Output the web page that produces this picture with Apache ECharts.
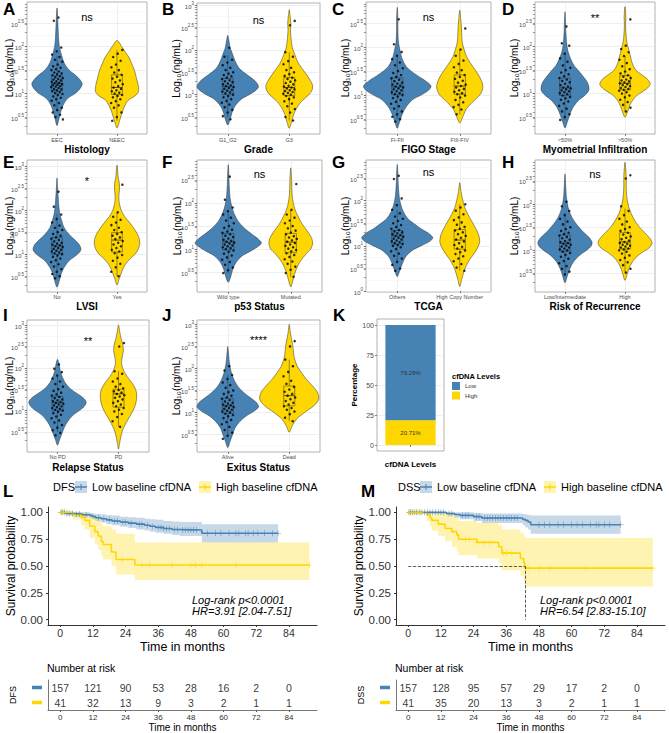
<!DOCTYPE html>
<html><head><meta charset="utf-8">
<script src="https://cdn.jsdelivr.net/npm/echarts@6/dist/echarts.min.js"></script>
<style>html,body{margin:0;padding:0;background:#fff}#c{width:669px;height:733px}</style>
</head><body><div id="c"></div>
<script>
const FONT = '"Liberation Sans", Arial, sans-serif';
const BLUE = '#4682B4', YELLOW = '#FFD700';
const BLUE_BAND = 'rgba(70,130,180,0.3)', YELLOW_BAND = 'rgba(255,215,0,0.3)';
const TXT = '#4d4d4d';

// ---------- Violin panels: categories, density outlines [log10 value, half width], points (log10), box stats [lo, q1, med, q3, hi]
const catsA = ['EEC', 'NEEC'];
const densA1 = [[0.32,0],[0.45,0.03],[0.6,0.06],[0.75,0.1],[0.9,0.18],[1.0,0.3],[1.1,0.38],[1.2,0.42],[1.3,0.38],[1.4,0.3],[1.5,0.2],[1.65,0.12],[1.8,0.08],[2.0,0.04],[2.2,0.025],[2.5,0.015],[2.82,0]];
const densA2 = [[0.27,0],[0.45,0.05],[0.65,0.1],[0.85,0.18],[0.95,0.3],[1.05,0.36],[1.2,0.35],[1.35,0.32],[1.5,0.29],[1.65,0.24],[1.77,0.2],[1.9,0.13],[2.0,0.08],[2.13,0]];
const ptsA1 = [2.62,2.55,1.98,1.9,1.83,1.78,1.72,1.68,1.62,1.58,1.55,1.52,1.5,1.47,1.45,1.43,1.41,1.39,1.37,1.35,1.33,1.31,1.3,1.28,1.26,1.25,1.23,1.22,1.2,1.19,1.18,1.16,1.15,1.14,1.12,1.1,1.09,1.07,1.05,1.03,1.01,0.99,0.97,0.94,0.91,0.88,0.85,0.8,0.75,0.7,0.65,0.6,0.55,0.5,0.45];
const ptsA2 = [1.93,1.85,1.78,1.7,1.62,1.56,1.5,1.45,1.4,1.36,1.32,1.28,1.24,1.2,1.16,1.13,1.1,1.07,1.05,1.02,1.0,0.97,0.95,0.92,0.88,0.84,0.8,0.75,0.7,0.6,0.5,0.42];
const boxA1 = [0.62,1.06,1.22,1.38,1.8], boxA2 = [0.42,0.98,1.13,1.4,1.93];

const catsB = ['G1_G2', 'G3'];
const densB1 = [[0.32,0],[0.45,0.04],[0.6,0.07],[0.75,0.12],[0.9,0.22],[1.0,0.35],[1.1,0.46],[1.18,0.5],[1.3,0.45],[1.4,0.36],[1.5,0.26],[1.6,0.18],[1.75,0.12],[1.9,0.08],[2.05,0.04],[2.2,0.02],[2.33,0]];
const densB2 = [[0.25,0],[0.4,0.04],[0.55,0.07],[0.7,0.12],[0.85,0.2],[1.0,0.32],[1.1,0.37],[1.2,0.38],[1.3,0.35],[1.45,0.28],[1.6,0.2],[1.75,0.13],[1.9,0.09],[2.05,0.05],[2.25,0.03],[2.45,0.02],[2.6,0.025],[2.75,0.015],[2.9,0]];
const ptsB1 = [2.05,1.85,1.78,1.72,1.66,1.6,1.55,1.5,1.47,1.44,1.41,1.38,1.35,1.32,1.3,1.28,1.25,1.23,1.21,1.19,1.17,1.15,1.13,1.11,1.09,1.07,1.05,1.03,1.0,0.97,0.94,0.9,0.86,0.82,0.78,0.72,0.66,0.6,0.52,0.45];
const ptsB2 = [2.65,2.55,1.95,1.85,1.75,1.68,1.6,1.55,1.5,1.46,1.42,1.38,1.35,1.32,1.29,1.26,1.23,1.2,1.18,1.16,1.14,1.12,1.1,1.08,1.06,1.04,1.02,1.0,0.97,0.94,0.9,0.85,0.8,0.74,0.68,0.6,0.5,0.42];
const boxB1 = [0.5,1.0,1.18,1.36,1.88], boxB2 = [0.42,0.98,1.16,1.38,1.95];

const catsC = ['FI-FII', 'FIII-FIV'];
const densC1 = [[0.31,0],[0.45,0.04],[0.6,0.08],[0.75,0.14],[0.9,0.24],[1.0,0.38],[1.1,0.5],[1.19,0.54],[1.3,0.45],[1.4,0.33],[1.5,0.22],[1.6,0.14],[1.75,0.08],[1.9,0.05],[2.1,0.02],[2.4,0.01],[2.6,0.01],[2.83,0]];
const densC2 = [[0.42,0],[0.55,0.05],[0.7,0.1],[0.85,0.2],[1.0,0.32],[1.1,0.36],[1.2,0.37],[1.35,0.33],[1.5,0.26],[1.65,0.18],[1.8,0.11],[1.95,0.07],[2.1,0.04],[2.3,0.03],[2.45,0.025],[2.6,0.015],[2.77,0]];
const ptsC1 = [2.58,2.06,1.9,1.82,1.75,1.68,1.62,1.56,1.5,1.46,1.42,1.38,1.35,1.32,1.29,1.26,1.24,1.22,1.2,1.18,1.16,1.14,1.12,1.1,1.08,1.06,1.04,1.02,1.0,0.97,0.94,0.9,0.86,0.82,0.77,0.72,0.66,0.6,0.55,0.5,0.45];
const ptsC2 = [2.39,1.95,1.82,1.72,1.65,1.58,1.52,1.47,1.42,1.38,1.34,1.3,1.26,1.22,1.19,1.16,1.13,1.1,1.07,1.04,1.02,0.99,0.95,0.9,0.85,0.8,0.75,0.7,0.6];
const boxC1 = [0.5,1.01,1.17,1.36,1.85], boxC2 = [0.6,1.02,1.19,1.42,1.95];

const catsD = ['<50%', '>50%'];
const densD1 = [[0.27,0],[0.4,0.04],[0.55,0.08],[0.7,0.13],[0.85,0.22],[0.95,0.32],[1.05,0.39],[1.12,0.4],[1.22,0.38],[1.32,0.33],[1.45,0.25],[1.6,0.15],[1.75,0.09],[1.9,0.05],[2.05,0.03],[2.3,0.015],[2.5,0.01],[2.74,0]];
const densD2 = [[0.5,0],[0.6,0.04],[0.75,0.08],[0.9,0.15],[1.0,0.24],[1.1,0.36],[1.2,0.42],[1.3,0.38],[1.4,0.28],[1.5,0.18],[1.65,0.12],[1.8,0.09],[1.95,0.06],[2.1,0.03],[2.3,0.015],[2.5,0.01],[2.62,0.015],[2.85,0]];
const ptsD1 = [2.43,2.07,2.02,1.85,1.75,1.68,1.6,1.55,1.5,1.45,1.41,1.37,1.33,1.3,1.27,1.24,1.21,1.18,1.15,1.13,1.11,1.09,1.07,1.05,1.03,1.01,0.99,0.96,0.93,0.9,0.87,0.83,0.79,0.74,0.68,0.62,0.56,0.5,0.44];
const ptsD2 = [2.58,2.02,1.95,1.88,1.8,1.72,1.65,1.58,1.52,1.47,1.43,1.39,1.36,1.33,1.3,1.28,1.26,1.24,1.22,1.2,1.18,1.16,1.14,1.12,1.1,1.08,1.06,1.03,1.0,0.96,0.92,0.87,0.82,0.76,0.7,0.62];
const boxD1 = [0.44,0.96,1.12,1.33,1.85], boxD2 = [0.62,1.08,1.22,1.38,1.8];

const catsE = ['No', 'Yes'];
const densE1 = [[0.25,0],[0.4,0.04],[0.55,0.07],[0.7,0.12],[0.85,0.2],[0.95,0.3],[1.05,0.38],[1.12,0.4],[1.22,0.37],[1.32,0.3],[1.45,0.2],[1.6,0.12],[1.75,0.08],[1.9,0.05],[2.1,0.03],[2.3,0.02],[2.5,0.01],[2.73,0]];
const densE2 = [[0.3,0],[0.45,0.04],[0.6,0.08],[0.75,0.13],[0.9,0.22],[1.0,0.3],[1.1,0.35],[1.25,0.38],[1.4,0.36],[1.55,0.3],[1.7,0.22],[1.85,0.13],[2.0,0.07],[2.15,0.04],[2.3,0.03],[2.45,0.04],[2.6,0.04],[2.75,0.02],[3.02,0]];
const ptsE1 = [2.42,2.08,1.9,1.8,1.72,1.65,1.6,1.55,1.5,1.46,1.42,1.38,1.35,1.32,1.29,1.26,1.24,1.22,1.2,1.18,1.16,1.14,1.12,1.1,1.08,1.06,1.04,1.02,1.0,0.97,0.94,0.9,0.86,0.82,0.77,0.72,0.66,0.6,0.55,0.5,0.45];
const ptsE2 = [2.58,1.95,1.85,1.78,1.72,1.66,1.6,1.55,1.5,1.46,1.42,1.38,1.34,1.3,1.26,1.22,1.18,1.14,1.1,1.06,1.02,0.98,0.92,0.85,0.78,0.7,0.6,0.5];
const boxE1 = [0.45,1.0,1.19,1.38,1.9], boxE2 = [0.5,1.05,1.32,1.49,1.95];

const catsF = ['Wild type', 'Mutated'];
const densF1 = [[0.28,0],[0.4,0.04],[0.55,0.07],[0.7,0.12],[0.85,0.22],[0.95,0.35],[1.05,0.47],[1.13,0.53],[1.22,0.48],[1.32,0.38],[1.45,0.26],[1.6,0.16],[1.75,0.1],[1.9,0.06],[2.1,0.03],[2.4,0.015],[2.6,0.01],[2.83,0]];
const densF2 = [[0.18,0],[0.3,0.03],[0.45,0.06],[0.6,0.1],[0.75,0.16],[0.9,0.25],[1.0,0.32],[1.13,0.35],[1.25,0.33],[1.4,0.26],[1.55,0.18],[1.7,0.12],[1.85,0.07],[2.0,0.04],[2.2,0.02],[2.45,0.015],[2.76,0]];
const ptsF1 = [2.57,2.07,1.9,1.82,1.75,1.68,1.62,1.56,1.5,1.46,1.42,1.38,1.35,1.32,1.29,1.26,1.23,1.2,1.18,1.16,1.14,1.12,1.1,1.08,1.06,1.04,1.02,1.0,0.97,0.94,0.9,0.86,0.82,0.77,0.72,0.66,0.6,0.54,0.48];
const ptsF2 = [2.41,1.85,1.75,1.68,1.62,1.56,1.5,1.45,1.4,1.36,1.32,1.28,1.25,1.22,1.19,1.16,1.13,1.1,1.07,1.04,1.01,0.98,0.95,0.91,0.87,0.83,0.78,0.73,0.68,0.62,0.55,0.48,0.4];
const boxF1 = [0.48,0.98,1.15,1.34,1.85], boxF2 = [0.4,0.92,1.15,1.34,1.85];

const catsG = ['Others', 'High Copy Number'];
const densG1 = [[0.32,0],[0.45,0.04],[0.6,0.08],[0.75,0.13],[0.9,0.24],[1.0,0.38],[1.1,0.52],[1.18,0.57],[1.28,0.5],[1.38,0.38],[1.5,0.26],[1.6,0.17],[1.75,0.1],[1.9,0.06],[2.1,0.03],[2.4,0.015],[2.6,0.01],[2.8,0]];
const densG2 = [[0.1,0],[0.25,0.03],[0.4,0.06],[0.55,0.1],[0.7,0.16],[0.85,0.24],[1.0,0.3],[1.1,0.32],[1.25,0.3],[1.4,0.25],[1.55,0.19],[1.7,0.13],[1.85,0.08],[2.0,0.05],[2.2,0.02],[2.4,0]];
const ptsG1 = [2.55,2.48,2.05,1.9,1.8,1.72,1.65,1.6,1.55,1.5,1.46,1.42,1.38,1.35,1.32,1.3,1.28,1.26,1.24,1.22,1.2,1.18,1.16,1.14,1.12,1.1,1.08,1.06,1.04,1.02,1.0,0.97,0.93,0.88,0.83,0.78,0.72,0.65,0.58,0.5,0.45];
const ptsG2 = [1.92,1.85,1.78,1.7,1.63,1.57,1.52,1.47,1.42,1.38,1.34,1.3,1.26,1.22,1.18,1.14,1.1,1.06,1.02,0.98,0.94,0.9,0.86,0.82,0.77,0.72,0.66,0.6,0.52,0.45];
const boxG1 = [0.6,1.04,1.22,1.34,1.8], boxG2 = [0.45,0.93,1.13,1.36,1.92];

const catsH = ['Low/Intermediate', 'High'];
const densH1 = [[0.3,0],[0.45,0.04],[0.6,0.08],[0.75,0.14],[0.9,0.25],[1.0,0.36],[1.1,0.44],[1.18,0.45],[1.28,0.4],[1.4,0.3],[1.55,0.2],[1.7,0.12],[1.85,0.07],[2.0,0.04],[2.2,0.02],[2.45,0.01],[2.65,0]];
const densH2 = [[0.35,0],[0.5,0.04],[0.65,0.08],[0.8,0.15],[0.95,0.28],[1.05,0.4],[1.15,0.45],[1.25,0.42],[1.38,0.33],[1.5,0.24],[1.65,0.16],[1.8,0.1],[1.95,0.06],[2.15,0.03],[2.4,0.02],[2.6,0.02],[2.9,0]];
const ptsH1 = [2.05,1.95,1.85,1.76,1.68,1.62,1.56,1.5,1.46,1.42,1.38,1.35,1.32,1.29,1.26,1.23,1.2,1.18,1.16,1.14,1.12,1.1,1.08,1.06,1.04,1.02,1.0,0.97,0.94,0.9,0.86,0.82,0.77,0.72,0.66,0.6,0.54,0.48];
const ptsH2 = [2.62,2.55,1.95,1.85,1.76,1.68,1.62,1.56,1.5,1.46,1.42,1.38,1.34,1.3,1.27,1.24,1.21,1.18,1.16,1.14,1.12,1.1,1.08,1.06,1.04,1.02,1.0,0.97,0.93,0.89,0.84,0.79,0.74,0.68,0.6,0.52];
const boxH1 = [0.5,0.98,1.15,1.33,1.8], boxH2 = [0.52,1.03,1.18,1.38,1.9];

const catsI = ['No PD', 'PD'];
const densI1 = [[0.19,0],[0.3,0.03],[0.45,0.07],[0.6,0.11],[0.75,0.17],[0.9,0.26],[1.0,0.36],[1.1,0.44],[1.2,0.47],[1.3,0.42],[1.4,0.32],[1.5,0.22],[1.62,0.14],[1.75,0.09],[1.9,0.05],[2.05,0.03],[2.2,0]];
const densI2 = [[0.1,0],[0.25,0.02],[0.4,0.04],[0.55,0.07],[0.7,0.12],[0.85,0.18],[1.0,0.24],[1.15,0.28],[1.35,0.3],[1.5,0.28],[1.65,0.22],[1.8,0.14],[1.95,0.08],[2.1,0.05],[2.25,0.06],[2.4,0.08],[2.55,0.07],[2.7,0.04],[2.85,0.02],[3.0,0]];
const ptsI1 = [2.08,1.98,1.9,1.82,1.75,1.68,1.62,1.56,1.5,1.46,1.42,1.38,1.35,1.32,1.29,1.26,1.24,1.22,1.2,1.18,1.16,1.14,1.12,1.1,1.08,1.06,1.04,1.02,1.0,0.97,0.94,0.9,0.86,0.82,0.77,0.72,0.66,0.6,0.54,0.48,0.42];
const ptsI2 = [2.58,2.5,1.92,1.86,1.75,1.68,1.62,1.56,1.52,1.48,1.45,1.42,1.39,1.36,1.33,1.3,1.26,1.22,1.18,1.14,1.1,1.06,1.02,0.98,0.92,0.85,0.75,0.62];
const boxI1 = [0.5,1.0,1.18,1.33,1.82], boxI2 = [0.62,1.08,1.39,1.5,1.92];

const catsJ = ['Alive', 'Dead'];
const densJ1 = [[0.2,0],[0.35,0.04],[0.5,0.08],[0.65,0.12],[0.8,0.2],[0.92,0.3],[1.02,0.42],[1.12,0.5],[1.22,0.47],[1.32,0.38],[1.45,0.26],[1.6,0.16],[1.75,0.1],[1.9,0.06],[2.1,0.03],[2.3,0.015],[2.5,0]];
const densJ2 = [[0.55,0],[0.7,0.05],[0.85,0.12],[1.0,0.25],[1.15,0.4],[1.3,0.48],[1.45,0.46],[1.6,0.38],[1.75,0.28],[1.9,0.2],[2.05,0.13],[2.2,0.09],[2.35,0.07],[2.5,0.06],[2.65,0.04],[2.8,0.02],[3.0,0]];
const ptsJ1 = [2.05,1.95,1.85,1.76,1.68,1.62,1.56,1.5,1.46,1.42,1.38,1.34,1.31,1.28,1.25,1.22,1.2,1.18,1.16,1.14,1.12,1.1,1.08,1.06,1.04,1.02,1.0,0.97,0.94,0.91,0.87,0.83,0.78,0.73,0.67,0.6,0.54,0.47,0.4];
const ptsJ2 = [2.62,2.5,2.2,2.05,1.92,1.82,1.72,1.65,1.58,1.52,1.47,1.42,1.38,1.34,1.3,1.26,1.22,1.18,1.14,1.1,1.06,1.02,0.96,0.88,0.8];
const boxJ1 = [0.45,0.98,1.15,1.32,1.85], boxJ2 = [0.8,1.15,1.38,1.6,2.2];

// ---------- Panel K
const cfdnaLevels = ['Low', 'High'];
const cfdnaPct = [79.29, 20.71];

// ---------- Kaplan-Meier (time in months, survival, CI upper, CI lower, censor times)
const kmTicks = [0, 12, 24, 36, 48, 60, 72, 84];
const dfsLowT = [0,2,5,8,11,12,13,15,17,19,22,25,28,31,33,35,38,41,44,52,80];
const dfsLowS = [1,0.99,0.985,0.978,0.97,0.96,0.95,0.94,0.93,0.92,0.91,0.9,0.89,0.88,0.87,0.86,0.85,0.84,0.835,0.805,0.805];
const dfsLowU = [1,1,1,1,0.995,0.99,0.985,0.98,0.975,0.97,0.96,0.955,0.95,0.94,0.935,0.93,0.92,0.915,0.91,0.89,0.89];
const dfsLowL = [1,0.97,0.96,0.955,0.94,0.93,0.92,0.905,0.89,0.88,0.865,0.855,0.84,0.83,0.82,0.81,0.8,0.79,0.78,0.72,0.72];
const dfsLowC = [0.3,0.8,1.5,2.5,3.5,4.5,6,7,9.5,14,16,18,20,21,23,24,26,29,30,32,34,36,37,38,39,40,42,43,45,46,47,48,49,50,54,57,59,62,64.5,65.6,68,69,71,72.6,75,78,80];
const dfsHighT = [0,4.7,7.7,9,10.8,12.7,13.9,15.1,15.7,18.8,20.5,27.4,91.5];
const dfsHighS = [1,0.975,0.95,0.925,0.87,0.82,0.78,0.73,0.7,0.63,0.56,0.51,0.51];
const dfsHighU = [1,1,1,0.99,0.97,0.95,0.92,0.89,0.87,0.84,0.8,0.72,0.72];
const dfsHighL = [1,0.93,0.88,0.84,0.76,0.7,0.65,0.6,0.56,0.5,0.42,0.37,0.37];
const dfsHighC = [0.3,1.2,2.5,22.9,30,32.7,41,48,49.7,52,64.5,91.5];
const dssLowT = [0,14,17,19,24,27,42,43,44,45,78];
const dssLowS = [1,0.99,0.98,0.972,0.96,0.947,0.935,0.925,0.91,0.885,0.885];
const dssLowU = [1,1,1,1,0.995,0.99,0.985,0.98,0.975,0.97,0.97];
const dssLowL = [1,0.97,0.95,0.935,0.92,0.9,0.88,0.86,0.84,0.8,0.8];
const dssLowC = [0.3,0.8,1.5,2.2,3,4,5,6,7,8,9,10,11,12,13,15,16,20,21,22,25,26,28,29,30,31,32,33,34,35,36,37,38,39,40,48,50,52,55,57,60,62,64,67,69,70,72,74,78];
const dssHighT = [0,6.8,8,8.6,11,13.5,16,17.8,18.5,25.2,33.2,34.4,41.2,42.4,42.8,89.8];
const dssHighS = [1,0.975,0.95,0.925,0.89,0.85,0.82,0.79,0.75,0.72,0.68,0.62,0.57,0.53,0.48,0.48];
const dssHighU = [1,1,1,1,1,0.99,0.97,0.95,0.92,0.9,0.88,0.84,0.81,0.79,0.76,0.76];
const dssHighL = [1,0.92,0.87,0.83,0.78,0.73,0.68,0.64,0.6,0.57,0.53,0.46,0.41,0.36,0.31,0.31];
const dssHighC = [0.3,1.2,2.5,3.5,4.5,21,22.5,25.5,28,30,35,36,38,44,48,52,65,89.8];
const dssHighMedian = 42.8;
const riskDfsLow = [157,121,90,53,28,16,2,0];
const riskDfsHigh = [41,32,13,9,3,2,1,1];
const riskDssLow = [157,128,95,57,29,17,2,0];
const riskDssHigh = [41,35,20,13,3,2,1,1];

// ---------- layout (yc = x centre of the rotated y-axis title)
const panels = [
  {L:'A', cats:catsA, dens:[densA1,densA2], pts:[ptsA1,ptsA2], box:[boxA1,boxA2], title:'Histology', sig:'ns', left:27, top:2, h:132, w:120, ymin:0.14, ymax:2.95, labels:[0.5,1,1.5,2,2.5], lx:3, ly:1, sy:15, yc:9, tg:9, lm:3},
  {L:'B', cats:catsB, dens:[densB1,densB2], pts:[ptsB1,ptsB2], box:[boxB1,boxB2], title:'Grade', sig:'ns', left:197, top:3, h:131, w:123, ymin:0.12, ymax:3.05, labels:[0.5,1,1.5,2,2.5,3], lx:162, ly:1, sy:17, yc:176, tg:9, lm:3},
  {L:'C', cats:catsC, dens:[densC1,densC2], pts:[ptsC1,ptsC2], box:[boxC1,boxC2], title:'FIGO Stage', sig:'ns', left:366, top:2, h:132, w:125, ymin:0.19, ymax:2.94, labels:[0.5,1,1.5,2,2.5], lx:332, ly:1, sy:15, yc:345, tg:9, lm:3},
  {L:'D', cats:catsD, dens:[densD1,densD2], pts:[ptsD1,ptsD2], box:[boxD1,boxD2], title:'Myometrial Infiltration', sig:'**', left:535, top:2, h:132, w:120, ymin:0.14, ymax:2.95, labels:[0.5,1,1.5,2,2.5], lx:502, ly:1, sy:16, yc:514, tg:9, lm:3},
  {L:'E', cats:catsE, dens:[densE1,densE2], pts:[ptsE1,ptsE2], box:[boxE1,boxE2], title:'LVSI', sig:'*', left:27, top:160, h:132, w:120, ymin:0.14, ymax:3.14, labels:[0.5,1,1.5,2,2.5,3], lx:3, ly:154, sy:21, yc:9, tg:8, lm:2},
  {L:'F', cats:catsF, dens:[densF1,densF2], pts:[ptsF1,ptsF2], box:[boxF1,boxF2], title:'p53 Status', sig:'ns', left:197, top:160, h:132, w:125, ymin:0.07, ymax:2.93, labels:[0.5,1,1.5,2,2.5], lx:162, ly:154, sy:14, yc:177, tg:8, lm:2},
  {L:'G', cats:catsG, dens:[densG1,densG2], pts:[ptsG1,ptsG2], box:[boxG1,boxG2], title:'TCGA', sig:'ns', left:366, top:160, h:132, w:125, ymin:-0.02, ymax:2.9, labels:[0,0.5,1,1.5,2,2.5], lx:332, ly:154, sy:12, yc:345, tg:8, lm:2},
  {L:'H', cats:catsH, dens:[densH1,densH2], pts:[ptsH1,ptsH2], box:[boxH1,boxH2], title:'Risk of Recurrence', sig:'ns', left:535, top:160, h:132, w:120, ymin:0.1, ymax:2.95, labels:[0.5,1,1.5,2,2.5], lx:502, ly:154, sy:14, yc:514, tg:8, lm:2},
  {L:'I', cats:catsI, dens:[densI1,densI2], pts:[ptsI1,ptsI2], box:[boxI1,boxI2], title:'Relapse Status', sig:'**', left:27, top:320, h:132, w:122, ymin:0.03, ymax:3.12, labels:[0.5,1,1.5,2,2.5,3], lx:3, ly:307, sy:21, yc:9, tg:10, lm:2},
  {L:'J', cats:catsJ, dens:[densJ1,densJ2], pts:[ptsJ1,ptsJ2], box:[boxJ1,boxJ2], title:'Exitus Status', sig:'****', left:197, top:320, h:132, w:123, ymin:0.1, ymax:3.1, labels:[0.5,1,1.5,2,2.5,3], lx:162, ly:307, sy:20, yc:176, tg:10, lm:2},
];

const grids = [], xAxes = [], yAxes = [], series = [], graphic = [];
function txt(x, y, t, size, o) {
  o = o || {};
  graphic.push({type:'text', x:x, y:y, rotation:o.rot || 0, silent:true, z:50, style:Object.assign({
    text:t, fontSize:size, fontFamily:FONT, fill:'#000', fontWeight:o.bold?'bold':'normal', fontStyle:o.italic?'italic':'normal',
    align:o.align||'left', textAlign:o.align||'left', verticalAlign:o.va||'top', textVerticalAlign:o.va||'top'}, o.style||{})});
}
function jit(i) { return (((i + 1) * 0.6180339887) % 1 - 0.5) * 0.2; }
function logTickVals(a, b) {
  const out = [];
  for (let n = -1; n <= 3; n++) for (let k = 1; k <= 9; k++) {
    const v = n + Math.log10(k);
    if (v >= a && v <= b) out.push(+v.toFixed(4));
  }
  for (let v = Math.ceil(a * 2) / 2; v <= b; v += 0.5) out.push(v);
  return out;
}

panels.forEach(p => {
  const gi = grids.length;
  grids.push({left:p.left, top:p.top, width:p.w, height:p.h, show:true, borderColor:'#a0a0a0', borderWidth:0.8, backgroundColor:'#fff', outerBoundsMode:'none'});
  const xi = xAxes.length;
  xAxes.push({type:'value', gridIndex:gi, min:0.5, max:2.5, position:'bottom',
    axisLine:{show:false},
    axisTick:{show:true, customValues:[1,2], length:2, lineStyle:{color:'#333', width:0.6}},
    axisLabel:{customValues:[1,2], formatter:v => p.cats[Math.round(v)-1], fontSize:5.5, fontFamily:FONT, color:TXT, margin:p.lm},
    splitLine:{show:true, lineStyle:{color:'#e6e6e6', width:0.6}},
    name:p.title, nameLocation:'middle', nameGap:p.tg,
    nameTextStyle:{fontSize:10, fontWeight:'bold', fontFamily:FONT, color:'#000', lineHeight:11}});
  const yi = yAxes.length;
  const minorVals = [];
  for (let v = Math.ceil(p.ymin * 4) / 4; v <= p.ymax; v += 0.25) if (Math.abs(v * 2 - Math.round(v * 2)) > 1e-6) minorVals.push(v);
  yAxes.push({type:'value', gridIndex:gi, min:p.ymin, max:p.ymax, position:'left',
    axisLine:{show:false},
    axisTick:{show:false, customValues:p.labels},
    axisLabel:{customValues:p.labels, margin:3, formatter:v => '{b|10}{s|' + v + '}',
      rich:{b:{fontSize:6, fontFamily:FONT, color:TXT, verticalAlign:'bottom', lineHeight:9},
            s:{fontSize:4.5, fontFamily:FONT, color:TXT, verticalAlign:'top', lineHeight:9}}},
    splitLine:{show:true, lineStyle:{color:'#e3e3e3', width:0.6}}});
  yAxes.push({type:'value', gridIndex:gi, min:p.ymin, max:p.ymax, position:'left',
    axisLine:{show:false}, axisLabel:{show:false}, axisTick:{show:false, customValues:minorVals},
    splitLine:{show:true, lineStyle:{color:'#f2f2f2', width:0.5}}});
  yAxes.push({type:'value', gridIndex:gi, min:p.ymin, max:p.ymax, position:'left',
    axisLine:{show:false}, axisLabel:{show:false}, splitLine:{show:false},
    axisTick:{show:true, customValues:logTickVals(p.ymin, p.ymax), length:2.2, lineStyle:{color:'#444', width:0.5}}});

  const colors = [BLUE, YELLOW];
  series.push({type:'custom', name:p.L + ' violin', xAxisIndex:xi, yAxisIndex:yi, z:2, silent:true,
    data:p.dens.map((d, k) => [k + 1, d[0][0]]), encode:{x:0, y:1},
    renderItem:(params, api) => {
      const k = params.dataIndex, d = p.dens[k], cx = k + 1, pts = [];
      for (let j = 0; j < d.length; j++) pts.push(api.coord([cx + d[j][1], d[j][0]]));
      for (let j = d.length - 2; j >= 1; j--) pts.push(api.coord([cx - d[j][1], d[j][0]]));
      return {type:'polygon', shape:{points:pts, smooth:0.3}, style:{fill:colors[k], stroke:'#333', lineWidth:0.5}};
    }});
  series.push({type:'custom', name:p.L + ' box', xAxisIndex:xi, yAxisIndex:yi, z:3, silent:true,
    data:p.box.map((b, k) => [k + 1, b[2]]), encode:{x:0, y:1},
    renderItem:(params, api) => {
      const k = params.dataIndex, b = p.box[k], cx = k + 1, hw = 0.09;
      const c = (x, y) => api.coord([x, y]);
      const st = {stroke:'#333', lineWidth:0.5, fill:null};
      const a = c(cx - hw, b[3]), z = c(cx + hw, b[1]);
      return {type:'group', children:[
        {type:'line', shape:{x1:c(cx,b[0])[0], y1:c(cx,b[0])[1], x2:c(cx,b[1])[0], y2:c(cx,b[1])[1]}, style:st},
        {type:'line', shape:{x1:c(cx,b[3])[0], y1:c(cx,b[3])[1], x2:c(cx,b[4])[0], y2:c(cx,b[4])[1]}, style:st},
        {type:'rect', shape:{x:a[0], y:a[1], width:z[0]-a[0], height:z[1]-a[1]}, style:st},
        {type:'line', shape:{x1:a[0], y1:c(cx,b[2])[1], x2:z[0], y2:c(cx,b[2])[1]}, style:{stroke:'#333', lineWidth:0.8}}
      ]};
    }});
  const ptsData = [];
  p.pts.forEach((arr, k) => arr.forEach((v, i) => ptsData.push([k + 1 + jit(i + k * 7), v])));
  series.push({type:'scatter', name:p.L + ' points', xAxisIndex:xi, yAxisIndex:yi, z:4, silent:true,
    symbolSize:2.5, itemStyle:{color:'#000'}, data:ptsData});

  txt(p.lx, p.ly, p.L, 17, {bold:true});
  txt(p.left + p.w / 2, p.top + p.sy, p.sig, 11, {align:'center', va:'middle'});
  txt(p.yc, p.top + p.h / 2, 'Log\u2081\u2080(ng/mL)', 10, {align:'center', va:'middle', rot:Math.PI / 2});
});

// ---------- Panel K: stacked percentage bar
{
  const gi = grids.length;
  grids.push({left:377, top:319, width:67, height:132, show:true, borderColor:'#a0a0a0', borderWidth:0.8, backgroundColor:'#fff', outerBoundsMode:'none'});
  const xi = xAxes.length;
  xAxes.push({type:'category', gridIndex:gi, data:[''], axisLine:{show:false},
    axisTick:{show:true, alignWithLabel:true, length:2, lineStyle:{color:'#333', width:0.6}},
    axisLabel:{show:true, fontSize:6}, splitLine:{show:false},
    name:'cfDNA Levels', nameLocation:'middle', nameGap:9,
    nameTextStyle:{fontSize:8, fontWeight:'bold', fontFamily:FONT, color:'#000'}});
  const yi = yAxes.length;
  yAxes.push({type:'value', gridIndex:gi, min:-5, max:105, position:'left', axisLine:{show:false},
    axisTick:{show:true, customValues:[0,25,50,75,100], length:2, lineStyle:{color:'#333', width:0.6}},
    axisLabel:{customValues:[0,25,50,75,100], fontSize:7, fontFamily:FONT, color:TXT, margin:3},
    splitLine:{show:true, lineStyle:{color:'#e3e3e3', width:0.6}},
    name:'Percentage', nameLocation:'middle', nameGap:16,
    nameTextStyle:{fontSize:8, fontWeight:'bold', fontFamily:FONT, color:'#000'}});
  yAxes.push({type:'value', gridIndex:gi, min:-5, max:105, position:'left', axisLine:{show:false},
    axisLabel:{show:false}, axisTick:{show:false, customValues:[12.5,37.5,62.5,87.5]},
    splitLine:{show:true, lineStyle:{color:'#f2f2f2', width:0.5}}});
  [1, 0].forEach(k => {
    series.push({type:'bar', name:cfdnaLevels[k], xAxisIndex:xi, yAxisIndex:yi, stack:'pct', barWidth:'75%', z:3,
      itemStyle:{color:k === 0 ? BLUE : YELLOW}, data:[cfdnaPct[k]],
      label:{show:true, position:'inside', formatter:q => q.value.toFixed(2) + '%', fontSize:6, fontFamily:FONT, color:'#333'}});
  });
  txt(333, 307, 'K', 17, {bold:true});
  txt(452, 376, 'cfDNA Levels', 7.5, {bold:true, va:'middle'});
}

// ---------- Kaplan-Meier panels
function stepLookup(T, S, t) { let v = S[0]; for (let i = 0; i < T.length; i++) if (T[i] <= t) v = S[i]; return v; }
function kmPanel(ox, lox, tag, letter, letterX, lo, hi, riskLo, riskHi, pval, hr, median) {
  const gi = grids.length;
  grids.push({left:48 + ox, top:507, width:269, height:118, show:false, outerBoundsMode:'none'});
  const xi = xAxes.length;
  xAxes.push({type:'value', gridIndex:gi, min:-4.5, max:94.3, position:'bottom',
    axisLine:{show:true, onZero:false, lineStyle:{color:'#333', width:1}},
    axisTick:{show:true, customValues:kmTicks, length:2, lineStyle:{color:'#333'}},
    axisLabel:{customValues:kmTicks, fontSize:10.5, fontFamily:FONT, color:'#333', margin:2},
    splitLine:{show:false}, name:'Time in months', nameLocation:'middle', nameGap:15,
    nameTextStyle:{fontSize:12.5, fontFamily:FONT, color:'#000'}});
  const yi = yAxes.length;
  yAxes.push({type:'value', gridIndex:gi, min:-0.05, max:1.05, position:'left',
    axisLine:{show:true, onZero:false, lineStyle:{color:'#333', width:1}},
    axisTick:{show:true, customValues:[0,0.25,0.5,0.75,1], length:2, lineStyle:{color:'#333'}},
    axisLabel:{customValues:[0,0.25,0.5,0.75,1], formatter:v => v.toFixed(2), fontSize:11.5, fontFamily:FONT, color:'#333', margin:5},
    splitLine:{show:false}, name:'Survival probability', nameLocation:'middle', nameGap:30,
    nameTextStyle:{fontSize:12, fontFamily:FONT, color:'#000'}});
  const groups = [[lo, BLUE, BLUE_BAND, 'Low'], [hi, YELLOW, YELLOW_BAND, 'High']];
  groups.forEach(([g, col, band, nm]) => {
    series.push({type:'custom', name:tag + ' ' + nm + ' CI', xAxisIndex:xi, yAxisIndex:yi, z:1, silent:true,
      data:[[g.T[0], g.U[0]]], encode:{x:0, y:1},
      renderItem:(params, api) => {
        const pts = [];
        for (let i = 0; i < g.T.length; i++) { if (i > 0) pts.push(api.coord([g.T[i], g.U[i-1]])); pts.push(api.coord([g.T[i], g.U[i]])); }
        for (let i = g.T.length - 1; i >= 0; i--) { pts.push(api.coord([g.T[i], g.L[i]])); if (i > 0) pts.push(api.coord([g.T[i], g.L[i-1]])); }
        return {type:'polygon', shape:{points:pts}, style:{fill:band}};
      }});
  });
  groups.forEach(([g, col, band, nm], k) => {
    const s = {type:'line', name:tag + ' ' + nm, xAxisIndex:xi, yAxisIndex:yi, step:'end', showSymbol:false, silent:true, z:3,
      lineStyle:{color:col, width:1.6}, itemStyle:{color:col}, data:g.T.map((t, i) => [t, g.S[i]])};
    if (k === 1 && median != null) {
      s.markLine = {silent:true, symbol:'none', label:{show:false}, lineStyle:{type:'dashed', color:'#333', width:0.8},
        data:[[{coord:[0, 0.5]}, {coord:[median, 0.5]}], [{coord:[median, 0.5]}, {coord:[median, 0]}]]};
    }
    series.push(s);
    series.push({type:'scatter', name:tag + ' ' + nm + ' censor', xAxisIndex:xi, yAxisIndex:yi, z:4, silent:true,
      symbol:'path://M0,4.5H10V5.5H0Z M4.5,0H5.5V10H4.5Z', symbolSize:6, itemStyle:{color:col},
      data:g.C.map(t => [t, stepLookup(g.T, g.S, t)])});
  });
  // legend row
  txt(53 + lox, 487, tag, 11, {va:'middle'});
  [[75, BLUE, BLUE_BAND, 'Low baseline cfDNA', 92], [199, YELLOW, YELLOW_BAND, 'High baseline cfDNA', 216]].forEach(([x, col, band, label, tx]) => {
    graphic.push({type:'rect', silent:true, shape:{x:x + lox, y:481, width:12, height:12}, style:{fill:band}});
    graphic.push({type:'line', silent:true, shape:{x1:x + lox, y1:487, x2:x + 12 + lox, y2:487}, style:{stroke:col, lineWidth:1.5}});
    graphic.push({type:'line', silent:true, shape:{x1:x + 6 + lox, y1:484, x2:x + 6 + lox, y2:490}, style:{stroke:col, lineWidth:1}});
    txt(tx + lox, 487, label, 11, {va:'middle'});
  });
  txt(192 + ox, 600, pval, 11, {italic:true, va:'middle'});
  txt(192 + ox, 611, hr, 11, {italic:true, va:'middle'});
  txt(letterX, 483, letter, 17, {bold:true});

  // risk table
  const tg = grids.length;
  grids.push({left:48 + ox, top:680, width:269, height:30, show:false, outerBoundsMode:'none'});
  const txi = xAxes.length;
  xAxes.push({type:'value', gridIndex:tg, min:-4.5, max:94.3, position:'bottom',
    axisLine:{show:true, onZero:false, lineStyle:{color:'#555', width:0.8}},
    axisTick:{show:true, customValues:kmTicks, length:2, lineStyle:{color:'#555'}},
    axisLabel:{customValues:kmTicks, fontSize:8, fontFamily:FONT, color:'#333', margin:3},
    splitLine:{show:false}, name:'Time in months', nameLocation:'middle', nameGap:12,
    nameTextStyle:{fontSize:10, fontFamily:FONT, color:'#000'}});
  const tyi = yAxes.length;
  yAxes.push({type:'category', gridIndex:tg, data:['Low', 'High'], inverse:true, position:'left',
    axisLine:{show:true, onZero:false, lineStyle:{color:'#555', width:0.8}}, axisTick:{show:false},
    axisLabel:{interval:0, margin:6, formatter:v => v === 'Low' ? '{b|}' : '{y|}',
      rich:{b:{backgroundColor:BLUE, width:10, height:3.5}, y:{backgroundColor:YELLOW, width:10, height:3.5}}},
    splitLine:{show:false}, name:tag, nameLocation:'middle', nameGap:31,
    nameTextStyle:{fontSize:9, fontFamily:FONT, color:'#000'}});
  const rows = [];
  kmTicks.forEach((t, i) => { rows.push([t, 0, riskLo[i]]); rows.push([t, 1, riskHi[i]]); });
  series.push({type:'scatter', name:tag + ' risk', xAxisIndex:txi, yAxisIndex:tyi, silent:true, symbolSize:1,
    itemStyle:{color:'rgba(0,0,0,0)'}, data:rows,
    label:{show:true, position:'inside', formatter:q => String(q.value[2]), fontSize:10.5, fontFamily:FONT, color:'#000'}});
  txt(47 + ox, 668, 'Number at risk', 10.5, {va:'middle'});
}

kmPanel(0, 0, 'DFS', 'L', 3,
  {T:dfsLowT, S:dfsLowS, U:dfsLowU, L:dfsLowL, C:dfsLowC},
  {T:dfsHighT, S:dfsHighS, U:dfsHighU, L:dfsHighL, C:dfsHighC},
  riskDfsLow, riskDfsHigh, 'Log-rank p<0.0001', 'HR=3.91 [2.04-7.51]', null);
kmPanel(348, 345, 'DSS', 'M', 361,
  {T:dssLowT, S:dssLowS, U:dssLowU, L:dssLowL, C:dssLowC},
  {T:dssHighT, S:dssHighS, U:dssHighU, L:dssHighL, C:dssHighC},
  riskDssLow, riskDssHigh, 'Log-rank p<0.0001', 'HR=6.54 [2.83-15.10]', dssHighMedian);

const chart = echarts.init(document.getElementById('c'), null, {renderer:'svg', width:669, height:733});
chart.setOption({
  animation:false,
  backgroundColor:'#fff',
  textStyle:{fontFamily:FONT},
  grid:grids, xAxis:xAxes, yAxis:yAxes, series:series, graphic:{elements:graphic},
  legend:{data:['Low','High'], orient:'vertical', left:452, top:382, itemWidth:8, itemHeight:8, itemGap:1.5, icon:'rect',
    selectedMode:false, textStyle:{fontSize:6, fontFamily:FONT, color:'#333'}, padding:0}
});
</script></body></html>
